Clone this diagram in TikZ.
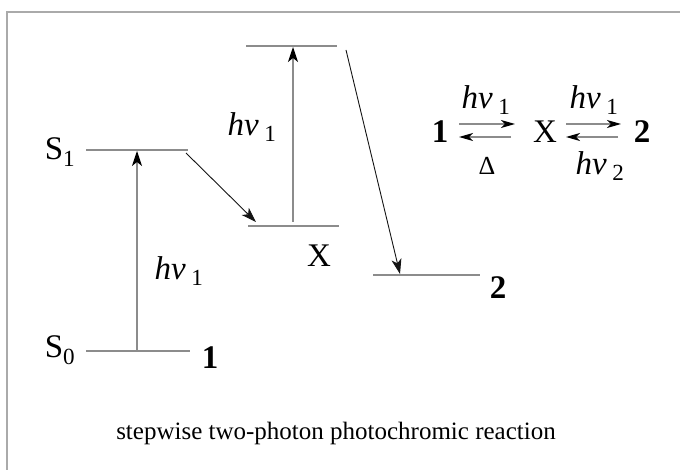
\documentclass[tikz,border=0pt]{standalone}
\usepackage{fontspec}
\setmainfont{Liberation Serif}
\usepackage{tikz}
\usetikzlibrary{arrows.meta, positioning}
\definecolor{framegray}{RGB}{170,170,170}
\definecolor{levelgray}{RGB}{140,140,140}
\definecolor{mydark}{RGB}{20,20,20}
\tikzset{
  level/.style={draw=levelgray, line width=1.3pt},
  uparrow/.style={-{Stealth[length=15pt, width=10pt, inset=4pt, color=black]},
    draw=levelgray, line width=1.1pt},
  relax/.style={-{Stealth[length=15pt, width=10pt, inset=4pt]},
    draw=mydark, line width=0.9pt},
  eqarrow/.style={-{Stealth[length=14pt, width=8pt, inset=4pt, color=black]},
    draw=levelgray, line width=1.3pt},
  lbl/.style={font=\fontsize{33}{38}\selectfont, inner sep=0pt},
  cmpd/.style={font=\fontsize{33}{38}\selectfont\bfseries, inner sep=0pt},
  caption/.style={font=\fontsize{25}{30}\selectfont, inner sep=0pt}
}
\newcommand{\hnu}[1]{\textit{hν}\,\textsubscript{#1}}

\begin{document}
\begin{tikzpicture}[x=1pt, y=-1pt]
  \useasboundingbox (0,0) rectangle (680,470);
  % Frame
  \draw[framegray, line width=1.5pt] (7,471) -- (7,12) -- (681,12);
  % Energy levels
  \coordinate (s0a) at (86,351);  \coordinate (s0b) at (190,351);
  \coordinate (s1a) at (86,150);  \coordinate (s1b) at (188,150);
  \coordinate (xa)  at (248,226); \coordinate (xb)  at (339,226);
  \coordinate (xsa) at (246,46);  \coordinate (xsb) at (337,46);
  \coordinate (ta)  at (373,275); \coordinate (tb)  at (480,275);
  \draw[level] (s0a) -- (s0b);
  \draw[level] (s1a) -- (s1b);
  \draw[level] (xa) -- (xb);
  \draw[level] (xsa) -- (xsb);
  \draw[level] (ta) -- (tb);
  % Level labels
  \node[lbl] (s0) at (60,350) {S\textsubscript{0}};
  \node[lbl] (s1) at (60,152) {S\textsubscript{1}};
  \node[cmpd] (one) at (210,358) {1};
  \node[lbl] (xlab) at (319,256) {X};
  \node[cmpd] (two) at (498,288) {2};
  % Excitations and relaxations
  \coordinate (up1a) at (137,350); \coordinate (up1b) at (137,151);
  \coordinate (up2a) at (293,222); \coordinate (up2b) at (293,47);
  \draw[uparrow] (up1a) -- (up1b);
  \draw[uparrow] (up2a) -- (up2b);
  \node[lbl] (exc1) at (179,271) {\hnu{1}};
  \node[lbl] (exc2) at (252,127) {\hnu{1}};
  \coordinate (isca) at (186,153); \coordinate (iscb) at (256,222);
  \coordinate (reca) at (346,50);  \coordinate (recb) at (400,274);
  \draw[relax] (isca) -- (iscb);
  \draw[relax] (reca) -- (recb);
  % Reaction scheme
  \node[cmpd] (r1) at (440,132) {1};
  \node[lbl] (rx) at (545,132) {X};
  \node[cmpd] (r2) at (642,132) {2};
  \coordinate (f1a) at (459,124); \coordinate (f1b) at (515,124);
  \coordinate (b1a) at (511,137); \coordinate (b1b) at (459,137);
  \coordinate (f2a) at (566,124); \coordinate (f2b) at (621,124);
  \coordinate (b2a) at (618,137); \coordinate (b2b) at (566,137);
  \draw[eqarrow] (f1a) -- (f1b);
  \draw[eqarrow] (b1a) -- (b1b);
  \draw[eqarrow] (f2a) -- (f2b);
  \draw[eqarrow] (b2a) -- (b2b);
  \node[lbl] (k1) at (486,100) {\hnu{1}};
  \node[lbl, font=\fontsize{26}{30}\selectfont] (k2) at (487,166) {Δ};
  \node[lbl] (k3) at (594,100) {\hnu{1}};
  \node[lbl] (k4) at (600,166) {\hnu{2}};
  % Caption
  \node[caption] (cap) at (336,433) {stepwise two-photon photochromic reaction};
\end{tikzpicture}
\end{document}
